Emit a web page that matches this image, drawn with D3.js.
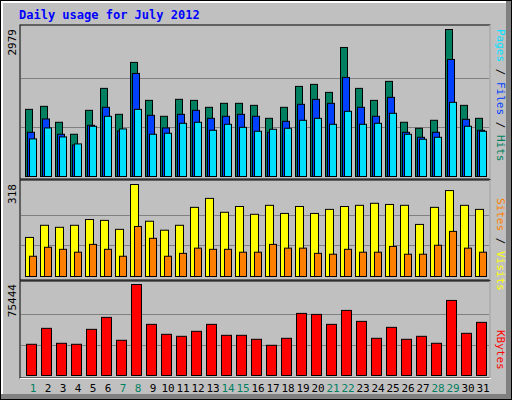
<!DOCTYPE html>
<html><head><meta charset="utf-8">
<script src="https://cdn.jsdelivr.net/npm/d3@7"></script>
<style>body{margin:0;background:#fff}</style>
</head><body><div id="chart"></div>
<script>
const days = d3.range(1, 32);
const weekends = [1, 7, 8, 14, 15, 21, 22, 28, 29];
const hits = [1361,1422,1099,856,1341,1786,1260,2312,1543,1220,1564,1543,1402,1483,1483,1442,1179,1402,1826,1867,1705,2615,1786,1543,1928,1099,977,1139,2979,1442,1179];
const files = [896,1166,856,640,1038,1402,923,2089,1240,984,1260,1341,1179,1220,1260,1220,896,1119,1463,1564,1483,2008,1402,1220,1604,896,795,896,2372,1159,937];
const pages = [762,984,802,660,1018,1220,964,1361,856,876,1078,1099,937,1058,997,917,957,977,1139,1179,1058,1321,1058,1078,1281,856,755,795,1503,1018,917];
const visits = [135,177,170,177,197,194,163,318,191,160,177,239,270,222,242,215,246,218,242,218,232,242,246,253,249,246,180,239,297,246,232];
const sites = [70,101,94,84,111,94,70,173,132,70,80,98,94,94,84,84,111,98,98,80,77,94,84,84,104,77,77,108,156,98,84];
const kbytes = [25882,39099,26708,25882,38273,48185,29186,75444,42403,34142,32490,36621,42403,33316,33316,30012,25056,30838,51489,50663,42403,53967,44880,30838,39924,30012,32490,26708,62227,34968,44055];

const W = 512, H = 400;
const svg = d3.select("#chart").append("svg").attr("width", W).attr("height", H)
  .style("font-family", "'DejaVu Sans Mono', monospace");

// outer frame with bevel
svg.append("rect").attr("width", W).attr("height", H).attr("fill", "#000");
svg.append("rect").attr("x", 1).attr("y", 1).attr("width", W - 2).attr("height", H - 2).attr("fill", "#808080");
svg.append("rect").attr("x", 1).attr("y", 1).attr("width", W - 7).attr("height", H - 7).attr("fill", "#fff");
svg.append("rect").attr("x", 3).attr("y", 3).attr("width", W - 9).attr("height", H - 9).attr("fill", "#c0c0c0");

svg.append("text").attr("x", 19).attr("y", 19).attr("fill", "#0000ff")
  .attr("font-weight", "bold").attr("font-size", 12).text("Daily usage for July 2012");

const x = d3.scaleBand().domain(days).range([22, 487]).padding(0);
const step = x.bandwidth();

// panel frames
const panels = [[25, 179], [180, 280], [281, 378]];
panels.forEach(([t, b]) => {
  svg.append("rect").attr("x", 20).attr("y", t).attr("width", 470).attr("height", b - t)
    .attr("fill", "none").attr("stroke", "#000");
  svg.append("line").attr("x1", 490).attr("x2", 490).attr("y1", t).attr("y2", b).attr("stroke", "#fff");
});
svg.append("line").attr("x1", 20).attr("x2", 491).attr("y1", 378.5).attr("y2", 378.5).attr("stroke", "#fff");

function panel(yTop, yBase, max, series, label) {
  const y = d3.scaleLinear().domain([0, max]).range([yBase, yTop]);
  [1 / 3, 2 / 3].forEach(f => {
    svg.append("line").attr("x1", 21).attr("x2", 489)
      .attr("y1", Math.round(y(max * f)) + 0.5).attr("y2", Math.round(y(max * f)) + 0.5)
      .attr("stroke", "#808080");
  });
  series.forEach(s => {
    svg.append("g").selectAll("rect").data(s.data).join("rect")
      .attr("x", (d, i) => x(days[i]) + s.off + 0.5)
      .attr("y", d => y(d) + 0.5)
      .attr("width", s.w)
      .attr("height", d => yBase - y(d))
      .attr("fill", s.color).attr("stroke", "#000");
  });
  svg.append("text").attr("transform", `translate(16,${yTop}) rotate(-90)`)
    .attr("text-anchor", "end").attr("font-size", 11).attr("fill", "#000").text(max);
  const lab = svg.append("text").attr("transform", `translate(497,${yTop}) rotate(90)`)
    .attr("font-size", 11);
  label.forEach(([txt, c]) => lab.append("tspan").attr("fill", c).text(txt));
}

panel(29, 176, 2979, [
  { data: hits, color: "#008060", off: 3, w: 7 },
  { data: files, color: "#0040ff", off: 5, w: 7 },
  { data: pages, color: "#00e0ff", off: 7, w: 7 }
], [["Pages", "#00e0ff"], [" / ", "#000"], ["Files", "#0040ff"], [" / ", "#000"], ["Hits", "#008060"]]);

panel(184, 276, 318, [
  { data: visits, color: "#ffff00", off: 3, w: 8 },
  { data: sites, color: "#ff8000", off: 7, w: 7 }
], [["Sites", "#ff8000"], [" / ", "#000"], ["Visits", "#ffff00"]]);

// right labels placed from bottom in webalizer style
svg.selectAll("text").filter(function () { return this.textContent === "Sites / Visits"; })
  .attr("transform", "translate(497,198) rotate(90)");

panel(284, 375, 75444, [
  { data: kbytes, color: "#ff0000", off: 4, w: 10 }
], [["KBytes", "#ff0000"]]);
svg.selectAll("text").filter(function () { return this.textContent === "KBytes"; })
  .attr("transform", "translate(497,330) rotate(90)");

svg.append("g").selectAll("text").data(days).join("text")
  .attr("x", d => x(d) + 11).attr("y", 392).attr("text-anchor", "middle")
  .attr("font-size", 11)
  .attr("fill", d => weekends.includes(d) ? "#008060" : "#000")
  .text(d => d);
</script></body></html>
